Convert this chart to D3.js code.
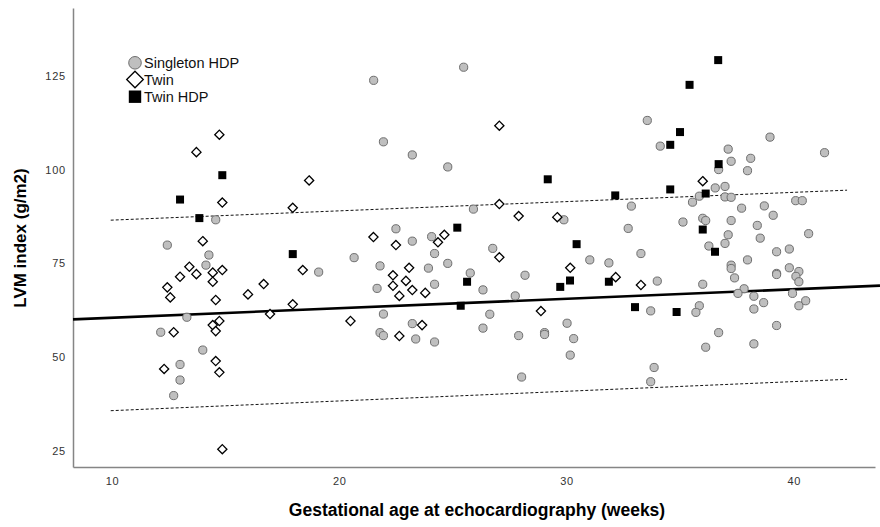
<!DOCTYPE html>
<html>
<head>
<meta charset="utf-8">
<script src="https://cdn.jsdelivr.net/npm/d3@7"></script>
<style>
  html, body { margin: 0; padding: 0; background: #fff; }
  svg { display: block; }
  text { font-family: "Liberation Sans", Arial, Helvetica, sans-serif; }
</style>
</head>
<body>
<svg id="chart" width="880" height="527"></svg>
<script>
// ---------- DATA ----------
// [gestational age (weeks), LVM index (g/m2)]
const singletonHDP = [
  [14.56,86.6],[12.43,79.85],[14.26,77.2],[14.13,74.5],[19.09,72.65],[13.29,60.6],[12.14,56.6],
  [13.99,51.85],[12.99,48.0],[12.99,43.85],[12.71,39.7],
  [21.51,123.8],[25.47,127.3],[21.94,107.4],[23.21,103.9],[24.77,100.7],[25.90,89.45],[22.49,84.2],
  [23.21,80.9],[24.06,82.1],[24.19,77.6],[20.65,76.5],[21.79,74.3],[23.92,73.7],[24.77,74.97],
  [26.75,78.97],[25.76,72.4],[21.66,68.3],[24.19,69.4],[26.32,67.9],[28.17,71.8],[27.74,66.3],
  [21.94,61.45],[26.62,61.4],[21.79,56.5],[21.94,55.7],[23.21,58.9],[23.36,54.8],[24.19,54.0],
  [26.32,57.7],[27.89,55.7],[29.03,56.5],[29.03,56.0],[28.02,44.65],[29.88,86.6],[30.02,59.0],
  [30.31,54.9],[30.16,50.5],
  [33.55,113.1],[34.12,106.25],[38.95,108.65],[41.35,104.5],[37.11,105.45],[37.24,102.2],[38.10,103.0],
  [36.69,100.0],[37.96,99.7],[36.54,95.1],[36.97,95.5],[35.84,92.9],[35.54,91.3],[36.97,92.7],
  [37.24,92.6],[40.08,91.7],[40.37,91.7],[32.85,90.25],[37.70,89.7],[38.70,90.3],[39.09,87.8],
  [35.12,86.0],[35.99,87.0],[36.12,86.4],[37.24,86.4],[32.71,84.3],[38.39,85.1],[40.65,82.9],
  [37.11,82.6],[38.52,81.7],[36.97,80.3],[36.26,79.6],[31.02,75.9],[31.86,75.1],[33.27,77.6],
  [39.24,78.07],[39.80,78.8],[37.96,75.9],[37.24,74.5],[37.24,73.6],[37.39,71.1],[39.80,73.8],
  [39.24,72.3],[39.24,72.0],[40.22,72.8],[40.09,71.5],[40.22,70.07],[33.99,70.25],[35.99,69.4],
  [37.81,68.2],[37.54,66.97],[38.24,66.2],[38.67,64.5],[39.94,66.97],[40.52,65.0],[40.22,63.67],
  [33.70,62.3],[35.84,63.67],[35.69,61.9],[38.24,62.8],[39.24,58.4],[36.69,56.5],[36.12,52.6],
  [38.24,53.5],[33.85,47.2],[33.70,43.4]
];
const twin = [
  [14.72,109.3],[13.71,104.65],[14.85,91.2],[18.67,97.1],[17.95,89.8],[13.99,80.9],[13.40,74.07],
  [12.99,71.4],[13.71,72.1],[14.43,72.5],[14.85,73.2],[14.43,70.07],[12.43,68.57],[12.56,65.9],
  [14.56,65.2],[15.98,66.7],[16.67,69.45],[16.95,61.45],[17.95,64.04],[18.39,73.2],[20.49,59.6],
  [14.43,58.5],[14.72,59.6],[14.56,56.9],[12.71,56.6],[14.56,48.9],[14.72,45.9],[12.29,46.8],
  [14.85,25.4],
  [27.04,111.7],[27.04,90.8],[27.89,87.6],[29.59,87.3],[21.50,82.0],[22.49,79.85],[24.62,82.6],
  [24.34,80.6],[27.04,76.6],[23.07,73.8],[22.36,71.8],[22.93,70.3],[22.36,69.0],[23.21,67.85],
  [23.78,67.1],[22.64,66.3],[30.16,73.8],[28.87,62.25],[23.64,58.5],[22.64,55.6],
  [35.99,96.9],[32.16,71.3],[33.27,69.2]
];
const twinHDP = [
  [12.99,92.0],[14.85,98.5],[13.84,87.05],[17.95,77.45],[29.17,97.4],[25.19,84.5],[25.62,70.07],
  [25.34,63.67],[29.72,68.7],[30.15,70.4],[30.44,80.1],[36.67,129.2],[35.41,122.6],[34.99,110.0],
  [34.56,106.6],[36.69,101.45],[34.56,94.7],[36.12,93.6],[32.14,93.1],[35.99,84.0],[36.53,78.07],
  [31.86,70.07],[33.01,63.3],[34.84,62.0]
];
// fitted line (intercept, slope) and interval line end points
const fitIntercept = 57.95;
const fitSlope = 0.253;
const upperBand = [[9.94,86.5],[42.34,94.5]];
const lowerBand = [[9.94,35.67],[42.34,44.04]];

const xTicks = [10,20,30,40];
const yTicks = [25,50,75,100,125];
const legendLabels = ["Singleton HDP","Twin","Twin HDP"];
const xTitle = "Gestational age at echocardiography (weeks)";
const yTitle = "LVM index (g/m2)";

// ---------- LAYOUT ----------
const svg = d3.select("#chart");
const plotL = 73, plotR = 875, plotT = 8, plotB = 467;
const x = d3.scaleLinear().domain([8.28, 43.57]).range([plotL, plotR]);
const y = d3.scaleLinear().domain([20.65, 143.1]).range([plotB, plotT]);

// axes
const axisColor = "#858585";
const gx = svg.append("g").attr("transform", `translate(0,${plotB})`)
  .call(d3.axisBottom(x).tickValues(xTicks).tickSize(0).tickPadding(10).tickFormat(d3.format("d")));
const gy = svg.append("g").attr("transform", `translate(${plotL},0)`)
  .call(d3.axisLeft(y).tickValues(yTicks).tickSize(0).tickPadding(7).tickFormat(d3.format("d")));
[gx, gy].forEach(g => {
  g.select(".domain").attr("stroke", axisColor).attr("stroke-width", 1.5);
  g.selectAll(".tick text")
    .attr("font-family", "'Liberation Sans', Arial, sans-serif")
    .attr("font-size", 11).attr("fill", "#333").style("letter-spacing", "0.8px");
});

// interval (dashed) lines
const line = d3.line().x(d => x(d[0])).y(d => y(d[1]));
[upperBand, lowerBand].forEach(b => {
  svg.append("path").attr("d", line(b)).attr("fill", "none")
    .attr("stroke", "#111").attr("stroke-width", 1).attr("stroke-dasharray", "3,2");
});
// regression line
const x0 = x.domain()[0], x1 = x.invert(880);
svg.append("path")
  .attr("d", line([[x0, fitIntercept + fitSlope * x0],[x1, fitIntercept + fitSlope * x1]]))
  .attr("fill", "none").attr("stroke", "#000").attr("stroke-width", 2.6);

// markers
svg.append("g").selectAll("circle").data(singletonHDP).join("circle")
  .attr("cx", d => x(d[0])).attr("cy", d => y(d[1])).attr("r", 4.1)
  .attr("fill", "#bfbfbf").attr("stroke", "#6e6e6e").attr("stroke-width", 1);

const diamond = s => `M0,${-s}L${s},0L0,${s}L${-s},0Z`;
svg.append("g").selectAll("path").data(twin).join("path")
  .attr("transform", d => `translate(${x(d[0])},${y(d[1])})`)
  .attr("d", diamond(4.6))
  .attr("fill", "#fff").attr("stroke", "#000").attr("stroke-width", 1.3);

svg.append("g").selectAll("rect").data(twinHDP).join("rect")
  .attr("x", d => x(d[0]) - 4).attr("y", d => y(d[1]) - 4)
  .attr("width", 8).attr("height", 8).attr("fill", "#000");

// legend
const lg = svg.append("g");
lg.append("circle").attr("cx", 135).attr("cy", 62.8).attr("r", 6.3)
  .attr("fill", "#bfbfbf").attr("stroke", "#6e6e6e").attr("stroke-width", 1);
lg.append("path").attr("transform", "translate(135,79.5)").attr("d", diamond(8.3))
  .attr("fill", "#fff").attr("stroke", "#000").attr("stroke-width", 1.3);
lg.append("rect").attr("x", 128.8).attr("y", 90.5).attr("width", 12.4).attr("height", 12.4).attr("fill", "#000");
lg.selectAll("text").data(legendLabels).join("text")
  .attr("x", 144).attr("y", (d, i) => [62.8, 79.8, 96.9][i]).attr("dy", "0.36em")
  .attr("font-size", 14.5).attr("fill", "#111").text(d => d);

// axis titles
svg.append("text").attr("x", 477).attr("y", 516).attr("text-anchor", "middle")
  .attr("font-size", 17.5).attr("font-weight", "bold").attr("fill", "#000").text(xTitle);
svg.append("text").attr("transform", "translate(25.5,238) rotate(-90)").attr("text-anchor", "middle")
  .attr("font-size", 17).attr("font-weight", "bold").attr("fill", "#000").text(yTitle);
</script>
</body>
</html>
